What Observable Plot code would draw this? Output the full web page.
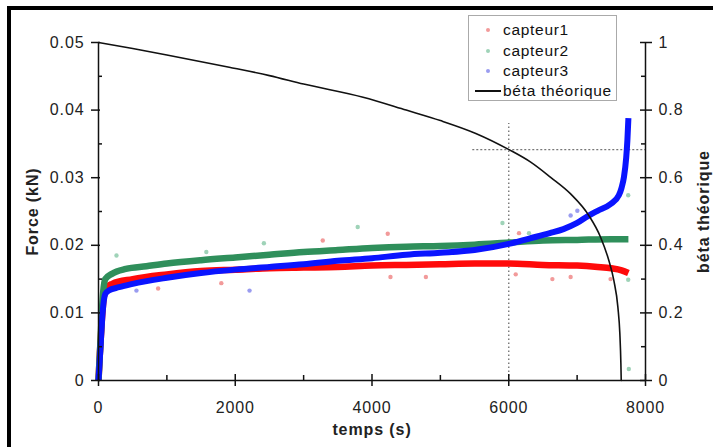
<!DOCTYPE html>
<html><head><meta charset="utf-8">
<script src="https://cdn.jsdelivr.net/npm/d3@7"></script>
<script src="https://cdn.jsdelivr.net/npm/@observablehq/plot@0.6"></script>
<style>
body{margin:0;background:#fff;}
#wrap{position:relative;width:713px;height:447px;overflow:hidden;font-family:"Liberation Sans",Arial,sans-serif;}
#wrap svg text{letter-spacing:0.9px;}
#frame{position:absolute;left:7px;top:6px;width:706px;height:441px;border-top:4px solid #000;border-left:4px solid #000;box-sizing:border-box;pointer-events:none;}
#legend{position:absolute;left:468px;top:15px;width:149px;height:86px;border:1px solid #aaa;background:#fff;box-sizing:border-box;font-size:15.5px;letter-spacing:0.7px;color:#111;}
.item{position:absolute;left:34px;height:20px;line-height:20px;white-space:nowrap;}
.mk{position:absolute;}
</style></head><body><div id="wrap"></div>
<script>
// ---- data ----
const capteur1T = [0,20,50,80,120,200,500,1000,1500,2000,2500,3000,3500,4000,4500,5000,5500,6000,6500,7000,7300,7500,7650,7750];
const capteur1F = [0,0.004,0.009,0.0125,0.0138,0.0143,0.0150,0.0157,0.0162,0.0164,0.0166,0.0167,0.0168,0.0170,0.0171,0.0172,0.0173,0.0173,0.0171,0.0170,0.0168,0.0166,0.0163,0.0159];

const capteur2T = [0,30,60,100,200,400,700,1000,1500,2000,2500,3000,3500,4000,4500,5000,5500,6000,6500,7000,7500,7750];
const capteur2F = [0,0.006,0.012,0.0150,0.0158,0.0165,0.0169,0.0173,0.0178,0.0182,0.0186,0.0190,0.0193,0.0196,0.0198,0.0199,0.0201,0.0204,0.0207,0.0208,0.0209,0.0209];

const capteur3T = [0,30,60,100,150,300,500,1000,1500,2000,2500,3000,3500,4000,4500,5000,5500,6000,6300,6600,6800,7000,7170,7300,7490,7610,7650,7685,7718,7735,7750];
const capteur3F = [0,0.005,0.010,0.0128,0.0133,0.0138,0.0143,0.0152,0.0159,0.0164,0.0168,0.0172,0.0177,0.0181,0.0186,0.0189,0.0193,0.0202,0.0210,0.0218,0.0224,0.0233,0.0244,0.0251,0.0261,0.0274,0.0285,0.0301,0.0330,0.0355,0.0388];

// scattered stray readings
const out1T = [872,1796,3280,4230,4270,4788,6102,6150,6638,6905,7489];
const out1F = [0.0136,0.0144,0.0207,0.0217,0.0153,0.0153,0.0157,0.0218,0.0150,0.0153,0.0150];
const out2T = [263,1577,2419,3791,5908,6296,7747,7747,7756];
const out2F = [0.0185,0.0190,0.0203,0.0227,0.0233,0.0218,0.0274,0.0149,0.0017];
const out3T = [555,2209,6905,7003];
const out3F = [0.0133,0.0133,0.0244,0.0251];

// béta théorique (right axis)
const betaT = [0,500,1000,1912,2500,3000,3869,4500,5000,5518,6004,6321,6613,6905,7172,7343,7464,7537,7596,7625,7640,7645];
const betaV = [1.0,0.982,0.963,0.927,0.902,0.877,0.838,0.800,0.769,0.731,0.683,0.646,0.601,0.552,0.488,0.424,0.355,0.296,0.217,0.138,0.05,0];

// dotted reading lines
const crossT = [6000];
const crossTopBeta = [0.76];
const crossBeta = [0.683];
const crossStartT = [5474];

// ticks
const timeTicks = [0,2000,4000,6000,8000];
const timeMinor = [1000,3000,5000,7000];
const forceTicks = [0,0.01,0.02,0.03,0.04,0.05];
const forceLabels = ["0","0.01","0.02","0.03","0.04","0.05"];
const forceMinor = [0.005,0.015,0.025,0.035,0.045];
const betaTicks = [0,0.2,0.4,0.6,0.8,1];
const betaLabels = ["0","0.2","0.4","0.6","0.8","1"];
const betaMinor = [0.1,0.3,0.5,0.7,0.9];
const betaMax = 1, forceMax = 0.05;

const legendLabels = ["capteur1","capteur2","capteur3","béta théorique"];
const colors = ["#ff0a0a","#2f8f5b","#0a14ff"];
const paleColors = ["#f29a9a","#9fd3b8","#9a9cf0"];

// ---- build tables ----
const k = forceMax / betaMax;
const zip = (T, F, s) => T.map((t, i) => ({t, f: F[i], s}));
const s1 = zip(capteur1T, capteur1F, 0), s2 = zip(capteur2T, capteur2F, 1), s3 = zip(capteur3T, capteur3F, 2);
const o1 = zip(out1T, out1F, 0), o2 = zip(out2T, out2F, 1), o3 = zip(out3T, out3F, 2);
const beta = betaT.map((t, i) => ({t, f: betaV[i] * k}));

const axisStyle = {fontSize: 16, strokeWidth: 1.5, stroke: "#111", fill: "#222", label: null};

const plot = Plot.plot({
  width: 713, height: 447,
  marginLeft: 98, marginRight: 68, marginTop: 42, marginBottom: 67,
  style: {fontFamily: "Liberation Sans, Arial, sans-serif", fontSize: "16px", background: "transparent", overflow: "visible"},
  x: {domain: [0, 8000], axis: null},
  y: {domain: [0, forceMax], axis: null},
  marks: [
    // reading lines
    Plot.ruleX(crossT, {x: d => d, y1: 0, y2: crossTopBeta[0] * k, stroke: "#777", strokeWidth: 1.4, strokeDasharray: "1.5,2.5"}),
    Plot.ruleY(crossBeta, {y: d => d * k, x1: crossStartT[0], x2: 8000, stroke: "#777", strokeWidth: 1.4, strokeDasharray: "2,2"}),
    // outliers
    Plot.dot([...o1, ...o2, ...o3], {x: "t", y: "f", r: 2.2, fill: d => paleColors[d.s], stroke: null}),
    // sensor bands
    Plot.line(s1, {x: "t", y: "f", stroke: colors[0], strokeWidth: 6.5, curve: "monotone-x", strokeLinecap: "butt"}),
    Plot.line(s2, {x: "t", y: "f", stroke: colors[1], strokeWidth: 6.5, curve: "monotone-x", strokeLinecap: "butt"}),
    Plot.line(s3, {x: "t", y: "f", stroke: colors[2], strokeWidth: 6, curve: "monotone-x", strokeLinecap: "butt"}),
    // theoretical beta
    Plot.line(beta, {x: "t", y: "f", stroke: "#111", strokeWidth: 1.6, curve: "monotone-x"}),
    // axis lines
    Plot.ruleY([0], {x1: 0, x2: 8000, stroke: "#111", strokeWidth: 1.5}),
    Plot.ruleX([0], {y1: 0, y2: forceMax, stroke: "#111", strokeWidth: 1.5}),
    Plot.ruleX([8000], {y1: 0, y2: forceMax, stroke: "#111", strokeWidth: 1.5}),
    // left axis
    Plot.axisY(forceTicks, {...axisStyle, anchor: "left", tickSize: 9, dx: 2, tickPadding: 7,
      tickFormat: d => forceLabels[forceTicks.indexOf(d)]}),
    Plot.axisY(forceMinor, {...axisStyle, anchor: "left", tickSize: 4, dx: 4, tickFormat: () => ""}),
    // right axis (beta)
    Plot.axisY(betaTicks.map(b => b * k), {...axisStyle, anchor: "right", tickSize: 12, dx: -6, tickPadding: 7,
      tickFormat: d => betaLabels[betaTicks.findIndex(b => Math.abs(b * k - d) < 1e-9)]}),
    Plot.axisY(betaMinor.map(b => b * k), {...axisStyle, anchor: "right", tickSize: 5, dx: -5, tickFormat: () => ""}),
    // bottom axis
    Plot.axisX(timeTicks, {...axisStyle, anchor: "bottom", tickSize: 12, dy: -6, tickPadding: 15, tickFormat: d => String(d)}),
    Plot.axisX(timeMinor, {...axisStyle, anchor: "bottom", tickSize: 5, dy: -5, tickFormat: () => ""}),
    // titles
    Plot.text(["temps (s)"], {frameAnchor: "bottom", dy: 54, textAnchor: "middle", fontWeight: "bold", fontSize: 16, fill: "#222"}),
    Plot.text(["Force (kN)"], {frameAnchor: "left", dx: -66, textAnchor: "middle", rotate: -90, fontWeight: "bold", fontSize: 16, fill: "#222"}),
    Plot.text(["béta théorique"], {frameAnchor: "right", dx: 58, textAnchor: "middle", rotate: -90, fontWeight: "bold", fontSize: 16, fill: "#222"})
  ]
});

const wrap = document.getElementById("wrap");
wrap.appendChild(plot);

// legend
const lg = document.createElement("div");
lg.id = "legend";
const ys = [14, 35, 55, 75];
legendLabels.forEach((name, i) => {
  const it = document.createElement("div");
  it.className = "item";
  it.style.top = (ys[i] - 10) + "px";
  it.textContent = name;
  lg.appendChild(it);
  const mk = document.createElement("div");
  mk.className = "mk";
  if (i < 3) {
    mk.style.left = "17px"; mk.style.top = (ys[i] - 2) + "px";
    mk.style.width = "4px"; mk.style.height = "4px"; mk.style.borderRadius = "2px";
    mk.style.background = paleColors[i];
  } else {
    mk.style.left = "6px"; mk.style.top = (ys[i] - 1) + "px";
    mk.style.width = "26px"; mk.style.height = "2px"; mk.style.background = "#111";
  }
  lg.appendChild(mk);
});
wrap.appendChild(lg);

const fr = document.createElement("div");
fr.id = "frame";
wrap.appendChild(fr);
</script></body></html>
